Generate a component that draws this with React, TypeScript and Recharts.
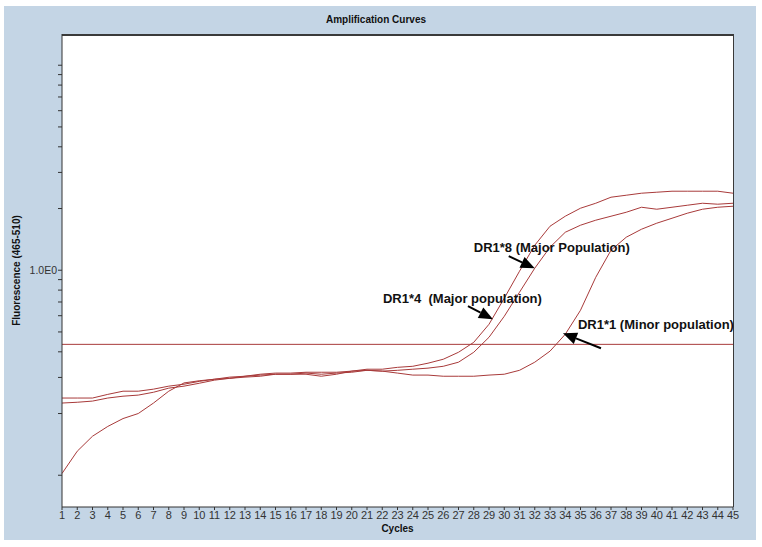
import { LineChart, Line, XAxis, YAxis, ReferenceLine, ReferenceDot } from "recharts"

const cycles = [
  1, 2, 3, 4, 5, 6, 7, 8, 9, 10, 11, 12, 13, 14, 15, 16, 17, 18, 19, 20, 21, 22, 23,
  24, 25, 26, 27, 28, 29, 30, 31, 32, 33, 34, 35, 36, 37, 38, 39, 40, 41, 42, 43, 44, 45,
]

// fluorescence (465-510) per cycle
const dr14 = [
  0.238, 0.238, 0.238, 0.248, 0.257, 0.257, 0.263, 0.272, 0.278, 0.287, 0.294, 0.301,
  0.304, 0.311, 0.315, 0.315, 0.318, 0.318, 0.318, 0.322, 0.329, 0.329, 0.336, 0.34,
  0.352, 0.368, 0.398, 0.445, 0.545, 0.73, 0.989, 1.324, 1.639, 1.834, 2.007, 2.122,
  2.271, 2.322, 2.375, 2.402, 2.429, 2.429, 2.429, 2.429, 2.375,
]
const dr18 = [
  0.225, 0.227, 0.23, 0.238, 0.243, 0.246, 0.254, 0.266, 0.272, 0.281, 0.291, 0.297,
  0.301, 0.304, 0.311, 0.311, 0.315, 0.311, 0.315, 0.318, 0.325, 0.322, 0.325, 0.329,
  0.333, 0.34, 0.356, 0.398, 0.471, 0.596, 0.781, 1.023, 1.295, 1.532, 1.658, 1.754,
  1.834, 1.918, 2.029, 1.984, 2.029, 2.075, 2.122, 2.099, 2.122,
]
const dr11 = [
  0.102, 0.131, 0.155, 0.173, 0.189, 0.2, 0.225, 0.257, 0.282, 0.289, 0.294, 0.297,
  0.304, 0.308, 0.311, 0.311, 0.311, 0.304, 0.311, 0.322, 0.325, 0.322, 0.315, 0.308,
  0.308, 0.304, 0.304, 0.304, 0.308, 0.311, 0.325, 0.356, 0.403, 0.487, 0.638, 0.924,
  1.252, 1.449, 1.585, 1.696, 1.793, 1.897, 1.984, 2.029, 2.052,
]

const threshold = 0.435

const fluorTicks = [0.1, 0.2, 0.3, 0.4, 0.5, 0.6, 0.7, 0.8, 0.9, 1, 2, 3, 4, 5, 6, 7, 8, 9, 10]

// where each arrow points on its curve
const noteText = ["DR1*8 (Major Population)", "DR1*4  (Major population)", "DR1*1 (Minor population)"]
const noteCycle = [32, 29.26, 33.85]
const noteValue = [1.023, 0.577, 0.493]

const data = cycles.map((c, i) => ({ cycle: c, dr14: dr14[i], dr18: dr18[i], dr11: dr11[i] }))

const red = "#A83A3A"
const font = '"Liberation Sans", Arial, sans-serif'

// tail offset and text offset relative to the arrow tip
const noteLayout = [
  { tail: [-26, -12], tx: -61, ty: -16 },
  { tail: [-25, -13], tx: -110, ty: -16 },
  { tail: [38, 15], tx: 15, ty: -4 },
]

function Arrow(props: any) {
  const { cx, cy, idx } = props
  const lay = noteLayout[idx]
  const [dx, dy] = lay.tail
  const len = Math.hypot(dx, dy)
  const ux = dx / len
  const uy = dy / len
  const bx = cx + ux * 14
  const by = cy + uy * 14
  const px = -uy * 6
  const py = ux * 6
  return (
    <g>
      <line x1={cx + dx} y1={cy + dy} x2={bx} y2={by} stroke="#000" strokeWidth={2} />
      <polygon points={`${cx},${cy} ${bx + px},${by + py} ${bx - px},${by - py}`} fill="#000" />
      <text x={cx + lay.tx} y={cy + lay.ty} fontSize={13} fontWeight="bold" fontFamily={font} fill="#111" style={{ whiteSpace: "pre" }}>
        {noteText[idx]}
      </text>
    </g>
  )
}

export default function App() {
  return (
    <div style={{ position: "absolute", left: 0, top: 0, width: 762, height: 547, background: "#fff", fontFamily: font }}>
      <div style={{ position: "absolute", left: 4, top: 6, width: 752, height: 534, background: "#C4D5E5" }} />
      <div
        style={{
          position: "absolute", left: 62, top: 34, width: 672, height: 473, background: "#fff",
          boxSizing: "border-box", borderTop: "2px solid #3a3a3a", borderRight: "1px solid #3a3a3a",
        }}
      />
      <div style={{ position: "absolute", left: 4, width: 744, top: 14, textAlign: "center", fontSize: 10, fontWeight: "bold", color: "#111" }}>
        Amplification Curves
      </div>
      <div style={{ position: "absolute", left: 0, top: 0 }}>
        <LineChart width={762} height={547} data={data} margin={{ top: 34, right: 29, bottom: 0, left: 2 }}>
          <XAxis
            dataKey="cycle"
            type="number"
            domain={[1, 45]}
            ticks={cycles}
            interval={0}
            height={40}
            tickSize={3}
            tickMargin={1}
            stroke="#333"
            tick={{ fontSize: 11, fill: "#333", fontFamily: font }}
            label={{ value: "Cycles", position: "insideBottom", offset: 15, style: { fontSize: 10, fontWeight: "bold", fill: "#111", fontFamily: font } }}
          />
          <YAxis
            scale="log"
            domain={[0.07, 14.2]}
            ticks={fluorTicks}
            interval={0}
            allowDataOverflow
            width={60}
            tickSize={4}
            tickMargin={1}
            stroke="#333"
            tickFormatter={(v: number) => (v === 1 ? "1.0E0" : "")}
            tick={{ fontSize: 10.5, fill: "#333", fontFamily: font }}
            label={{
              value: "Fluorescence (465-510)", angle: -90, position: "insideLeft", offset: 14,
              style: { textAnchor: "middle", fontSize: 10, fontWeight: "bold", fill: "#111", fontFamily: font },
            }}
          />
          <ReferenceLine y={threshold} stroke={red} strokeWidth={1} />
          <Line type="linear" dataKey="dr11" stroke={red} strokeWidth={1} dot={false} isAnimationActive={false} />
          <Line type="linear" dataKey="dr18" stroke={red} strokeWidth={1} dot={false} isAnimationActive={false} />
          <Line type="linear" dataKey="dr14" stroke={red} strokeWidth={1} dot={false} isAnimationActive={false} />
          {noteText.map((t, i) => (
            <ReferenceDot key={t} x={noteCycle[i]} y={noteValue[i]} r={0} shape={(p: any) => <Arrow {...p} idx={i} />} />
          ))}
        </LineChart>
      </div>
    </div>
  )
}
